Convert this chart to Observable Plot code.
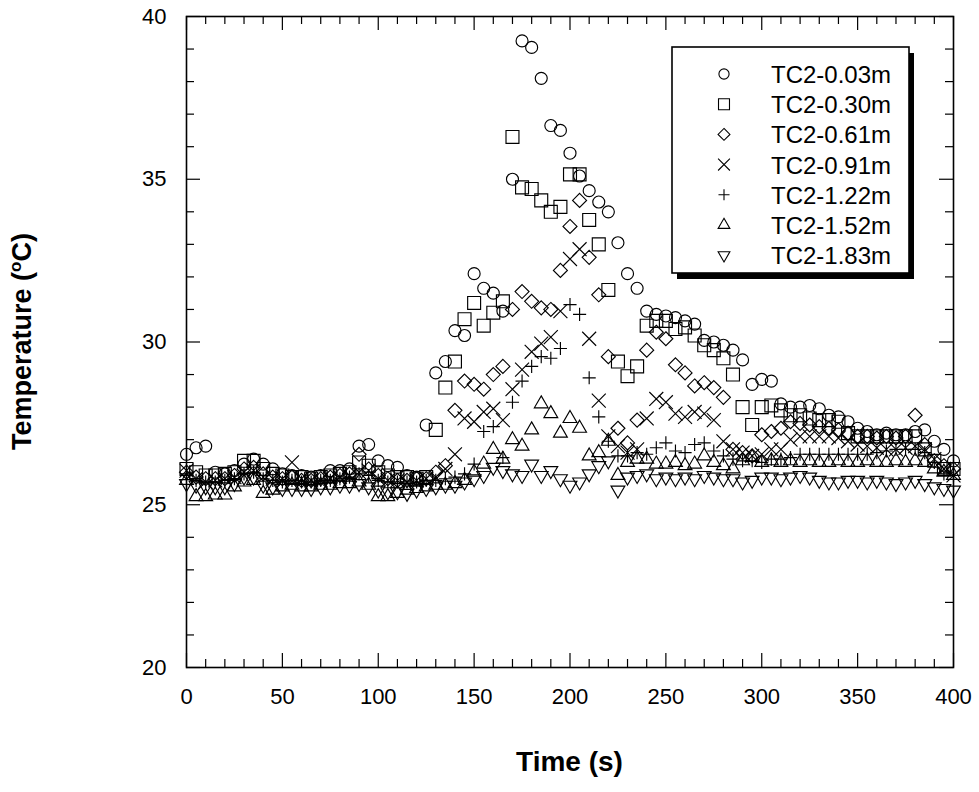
<!DOCTYPE html>
<html><head><meta charset="utf-8">
<script src="https://cdn.jsdelivr.net/npm/d3@7"></script>
<script src="https://cdn.jsdelivr.net/npm/@observablehq/plot@0.6"></script>
<style>
body{margin:0;background:#fff;}
#chart svg{font-family:"Liberation Sans",Arial,sans-serif;}
</style>
</head><body><div id="chart"></div>
<script>
// ---- data (time in s, temperature in °C) ----
const times = [
  0,5,10,15,20,25,30,35,40,45,
  50,55,60,65,70,75,80,85,90,95,
  100,105,110,115,120,125,130,135,140,145,
  150,155,160,165,170,175,180,185,190,195,
  200,205,210,215,220,225,230,235,240,245,
  250,255,260,265,270,275,280,285,290,295,
  300,305,310,315,320,325,330,335,340,345,
  350,355,360,365,370,375,380,385,390,395,
  400];
const seriesNames = ["TC2-0.03m","TC2-0.30m","TC2-0.61m","TC2-0.91m","TC2-1.22m","TC2-1.52m","TC2-1.83m"];
const tc003 = [
  26.55,26.75,26.8,26.0,25.95,26.05,26.25,26.4,26.25,26.1,
  25.95,25.9,25.9,25.85,25.9,26.05,26.05,26.1,26.8,26.85,
  26.35,26.2,26.15,25.9,25.85,27.45,29.05,29.4,30.35,30.2,
  32.1,31.65,31.5,30.95,35.0,39.25,39.05,38.1,36.65,36.5,
  35.8,35.1,34.65,34.3,34.0,33.05,32.1,31.65,30.95,30.85,
  30.8,30.75,30.65,30.55,30.05,30.0,29.9,29.75,29.45,28.7,
  28.85,28.8,28.1,28.0,28.0,28.05,27.95,27.75,27.7,27.55,
  27.35,27.25,27.15,27.2,27.15,27.15,27.25,27.3,26.95,26.7,
  26.35];
const tc030 = [
  26.1,26.0,25.9,25.9,25.95,26.0,26.35,26.35,26.1,25.95,
  25.9,25.85,25.85,25.8,25.85,25.9,25.95,26.0,26.3,26.2,
  26.0,25.9,25.85,25.85,25.8,25.85,27.3,28.6,29.4,30.7,
  31.2,30.5,30.9,31.25,36.3,34.75,34.7,34.35,34.0,34.15,
  35.15,35.15,33.75,33.0,31.6,29.4,28.95,29.25,30.5,30.65,
  30.65,30.4,30.45,30.2,29.9,29.75,29.5,29.0,28.0,27.45,
  28.0,28.05,27.9,27.75,27.75,27.65,27.6,27.6,27.55,27.2,
  27.1,27.1,27.1,27.1,27.1,27.1,27.1,26.7,26.35,26.1,
  26.1];
const tc061 = [
  26.0,25.85,25.8,25.8,25.8,25.9,26.1,26.15,25.95,25.85,
  25.8,25.85,25.75,25.75,25.8,25.85,25.9,25.95,26.55,26.1,
  25.9,25.8,25.75,25.75,25.8,25.8,26.0,26.2,27.9,28.8,
  28.7,28.55,29.0,29.25,31.0,31.55,31.25,31.05,31.0,32.2,
  33.55,34.35,32.6,31.45,29.55,27.35,26.9,27.6,29.75,30.3,
  30.1,29.3,29.05,28.65,28.75,28.6,28.3,26.7,26.6,26.5,
  27.15,27.25,27.35,27.55,27.5,27.45,27.4,27.35,27.3,27.2,
  27.1,27.1,27.05,27.1,27.05,27.1,27.75,26.85,26.35,26.2,
  26.1];
const tc091 = [
  26.05,25.8,25.7,25.75,25.8,25.85,26.0,26.05,25.85,25.8,
  25.8,26.3,25.8,25.75,25.75,25.8,25.85,25.9,26.0,26.05,
  25.8,25.75,25.75,25.7,25.75,25.8,25.85,26.1,26.55,27.65,
  27.55,27.85,27.95,27.6,28.55,29.15,29.7,29.95,30.15,30.95,
  32.55,32.85,30.1,28.2,27.1,26.8,26.6,26.7,27.65,28.25,
  28.15,27.8,27.7,27.85,27.8,27.6,26.95,26.7,26.6,26.5,
  26.55,26.7,26.7,27.0,27.1,27.1,27.1,27.1,27.05,26.95,
  26.85,26.8,26.75,26.7,26.7,26.75,26.8,26.7,26.4,26.1,
  25.9];
const tc122 = [
  25.95,25.75,25.7,25.7,25.75,25.8,25.95,26.0,25.8,25.75,
  25.7,25.75,25.7,25.7,25.75,25.75,25.8,25.85,25.95,25.9,
  25.75,25.7,25.7,25.7,25.7,25.75,25.75,25.8,25.85,25.95,
  26.25,27.25,27.4,26.45,28.15,28.8,29.25,29.55,29.5,29.8,
  31.15,30.85,28.9,27.7,26.95,26.5,26.5,26.6,26.55,26.75,
  26.9,26.65,26.6,26.85,26.9,26.65,26.5,26.4,26.35,26.35,
  26.3,26.4,26.4,26.45,26.55,26.55,26.55,26.55,26.55,26.55,
  26.55,26.55,26.6,26.65,26.7,26.7,26.7,26.6,26.3,25.95,
  25.9];
const tc152 = [
  25.75,25.25,25.25,25.3,25.3,25.55,25.7,25.75,25.35,25.45,
  25.55,25.6,25.55,25.55,25.6,25.6,25.65,25.65,25.7,25.6,
  25.25,25.25,25.35,25.45,25.5,25.55,25.6,25.6,25.65,25.75,
  26.0,26.25,26.7,26.4,27.0,26.8,27.3,28.1,27.8,27.2,
  27.65,27.35,26.5,26.6,26.95,25.9,26.3,26.4,26.4,26.25,
  26.25,26.3,26.2,26.25,26.5,26.3,26.2,26.1,26.35,26.45,
  26.3,26.35,26.3,26.35,26.3,26.35,26.3,26.3,26.35,26.3,
  26.3,26.35,26.3,26.3,26.35,26.3,26.35,26.3,26.1,26.0,
  25.9];
const tc183 = [
  25.65,25.6,25.55,25.55,25.55,25.65,25.85,25.85,25.6,25.55,
  25.5,25.5,25.5,25.5,25.55,25.55,25.6,25.6,25.65,25.55,
  25.45,25.4,25.4,25.35,25.45,25.5,25.55,25.6,25.6,25.7,
  25.8,25.9,26.15,26.05,25.95,25.9,26.25,25.9,26.05,25.8,
  25.6,25.7,25.95,26.2,26.35,25.45,25.85,25.9,25.95,25.8,
  25.85,25.8,25.85,25.8,25.9,25.85,25.8,25.8,25.7,25.75,
  25.85,25.85,25.8,25.85,25.9,25.85,25.75,25.7,25.7,25.75,
  25.75,25.7,25.75,25.7,25.65,25.7,25.75,25.65,25.55,25.5,
  25.45];
const xTicks = [0,50,100,150,200,250,300,350,400];
const xMinorTicks = [10,20,30,40,60,70,80,90,110,120,130,140,160,170,180,190,210,220,230,240,260,270,280,290,310,320,330,340,360,370,380,390];
const yTicks = [20,25,30,35,40];
const yMinorTicks = [21,22,23,24,26,27,28,29,31,32,33,34,36,37,38,39];

// ---- layout ----
const W = 979, H = 792, mt = 16, mb = 125, ml = 186, mr = 26;
const fw = W - ml - mr, fh = H - mt - mb;
const TICK = 14, MINOR = 8;

const triangleDown = {
  draw(context, size) {
    const s = Math.sqrt(size) * 0.6824, t = s / 2, u = s * Math.sqrt(3) / 2;
    context.moveTo(0, s); context.lineTo(u, -t); context.lineTo(-u, -t); context.closePath();
  }
};
const seriesValues = [tc003, tc030, tc061, tc091, tc122, tc152, tc183];
const symbols = [d3.symbolCircle, d3.symbolSquare, d3.symbolDiamond2, d3.symbolTimes, d3.symbolPlus, d3.symbolTriangle2, triangleDown];
const radii = [6, 7.3, 6.3, 6.4, 4.3, 6.6, 6.6];

const rows = seriesNames.map((name, k) => times.map((t, i) => ({series: name, time: t, temp: seriesValues[k][i]})));

const dots = rows.map((data, k) => Plot.dot(data, {
  x: "time", y: "temp", symbol: symbols[k], r: radii[k],
  stroke: "black", fill: "none", strokeWidth: 1.15
}));

const tickStyle = {stroke: "black", strokeWidth: 1.2};
const chart = Plot.plot({
  width: W, height: H,
  marginTop: mt, marginBottom: mb, marginLeft: ml, marginRight: mr,
  style: {fontSize: "22px", fontFamily: "'Liberation Sans', Arial, sans-serif", color: "black", background: "white"},
  x: {domain: [0, 400], ticks: xTicks, tickSize: 0, tickPadding: 21, label: null},
  y: {domain: [20, 40], ticks: yTicks, tickSize: 0, tickPadding: 20, label: null},
  marks: [
    Plot.tickX(xTicks, {x: d => d, insetTop: fh - TICK, ...tickStyle}),
    Plot.tickX(xTicks, {x: d => d, insetBottom: fh - TICK, ...tickStyle}),
    Plot.tickX(xMinorTicks, {x: d => d, insetTop: fh - MINOR, ...tickStyle}),
    Plot.tickX(xMinorTicks, {x: d => d, insetBottom: fh - MINOR, ...tickStyle}),
    Plot.tickY(yTicks, {y: d => d, insetRight: fw - TICK, ...tickStyle}),
    Plot.tickY(yTicks, {y: d => d, insetLeft: fw - TICK, ...tickStyle}),
    Plot.tickY(yMinorTicks, {y: d => d, insetRight: fw - MINOR, ...tickStyle}),
    Plot.tickY(yMinorTicks, {y: d => d, insetLeft: fw - MINOR, ...tickStyle}),
    ...dots,
    Plot.frame({stroke: "black", strokeWidth: 1.6})
  ]
});
document.getElementById("chart").appendChild(chart);

// ---- axis titles & legend ----
const svg = d3.select(chart);
const font = "'Liberation Sans', Arial, sans-serif";
const yTitle = svg.append("text")
  .attr("transform", `translate(31,${mt + fh / 2}) rotate(-90)`)
  .attr("text-anchor", "middle").attr("font-family", font)
  .attr("font-size", 27).attr("font-weight", "bold").attr("fill", "black");
yTitle.append("tspan").text("Temperature (");
yTitle.append("tspan").attr("font-size", 17).attr("dy", -10).text("o");
yTitle.append("tspan").attr("dy", 10).text("C)");

svg.append("text")
  .attr("x", ml + fw / 2).attr("y", 771)
  .attr("text-anchor", "middle").attr("font-family", font)
  .attr("font-size", 28).attr("font-weight", "bold").attr("fill", "black")
  .text("Time (s)");

const lg = svg.append("g");
const bx = 672, by = 47, bw = 237, bh = 226;
lg.append("rect").attr("x", bx + 5).attr("y", by + 6).attr("width", bw).attr("height", bh).attr("fill", "black");
lg.append("rect").attr("x", bx).attr("y", by).attr("width", bw).attr("height", bh)
  .attr("fill", "white").attr("stroke", "black").attr("stroke-width", 1.6);
seriesNames.forEach((name, k) => {
  const cy = 74 + k * 30.2;
  const size = Math.PI * radii[k] * radii[k] * 0.72;
  lg.append("path").attr("transform", `translate(724,${cy})`)
    .attr("d", d3.symbol(symbols[k], size)())
    .attr("fill", "none").attr("stroke", "black").attr("stroke-width", 1.1);
  lg.append("text").attr("x", 771).attr("y", cy + 9).attr("text-anchor", "start")
    .attr("font-family", font).attr("font-size", 24).attr("fill", "black").text(name);
});
</script>
</body></html>
